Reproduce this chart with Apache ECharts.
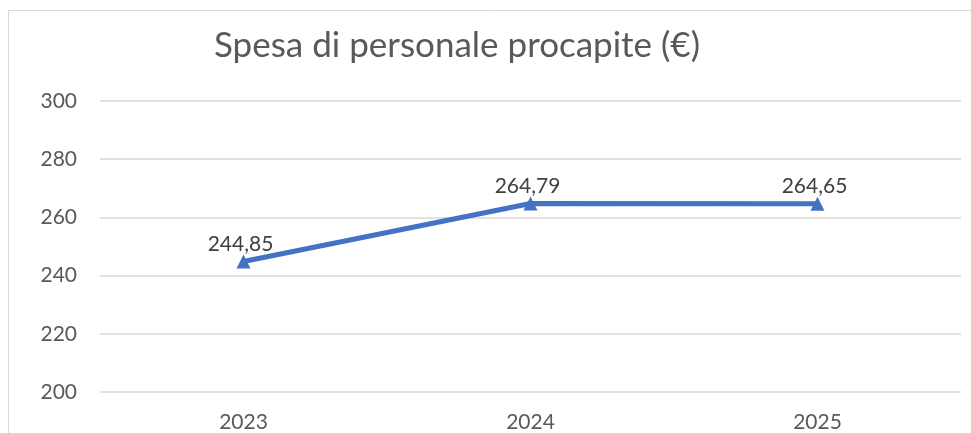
<!DOCTYPE html>
<html>
<head>
<meta charset="utf-8">
<script src="https://cdn.jsdelivr.net/npm/echarts@6/dist/echarts.min.js"></script>
<style>
  html, body { margin: 0; padding: 0; background: #fff; }
  #chart { width: 971px; height: 433px; }
</style>
</head>
<body>
<div id="chart"></div>
<script>
// dati
var anni = ['2023', '2024', '2025'];
var spesa = [244.85, 264.79, 264.65];
var titolo = 'Spesa di personale procapite (€)';

var chart = echarts.init(document.getElementById('chart'));

chart.setOption({
    backgroundColor: '#fff',
    animation: false,
    textStyle: { fontFamily: 'Lato' },
    title: {
        text: titolo,
        left: 452,
        top: 23,
        textAlign: 'center',
        textStyle: { color: '#595959', fontSize: 35, fontWeight: 'normal', fontFamily: 'Lato' }
    },
    // cornice del grafico
    graphic: [{
        type: 'rect',
        shape: { x: 8.5, y: 10.5, width: 1000, height: 500 },
        style: { fill: 'none', stroke: '#d9d9d9', lineWidth: 1 },
        silent: true
    }],
    grid: { left: 100, right: 10, top: 101, bottom: 39 },
    xAxis: {
        type: 'category',
        data: anni,
        axisLine: { show: false },
        axisTick: { show: false },
        axisLabel: { color: '#595959', fontSize: 21, margin: 20 }
    },
    yAxis: {
        type: 'value',
        min: 200,
        max: 300,
        interval: 20,
        axisLine: { show: false },
        axisTick: { show: false },
        axisLabel: { color: '#595959', fontSize: 21, margin: 23, align: 'right' },
        splitLine: { lineStyle: { color: '#d9d9d9', width: 1.5 } }
    },
    series: [{
        type: 'line',
        data: spesa,
        symbol: 'triangle',
        symbolSize: 14,
        itemStyle: { color: '#4472C4' },
        lineStyle: { color: '#4472C4', width: 5 },
        label: {
            show: true,
            position: 'top',
            distance: 0,
            offset: [-3, 0],
            color: '#404040',
            fontSize: 21,
            formatter: function (p) { return p.value.toFixed(2).replace('.', ','); }
        }
    }]
});
</script>
</body>
</html>
